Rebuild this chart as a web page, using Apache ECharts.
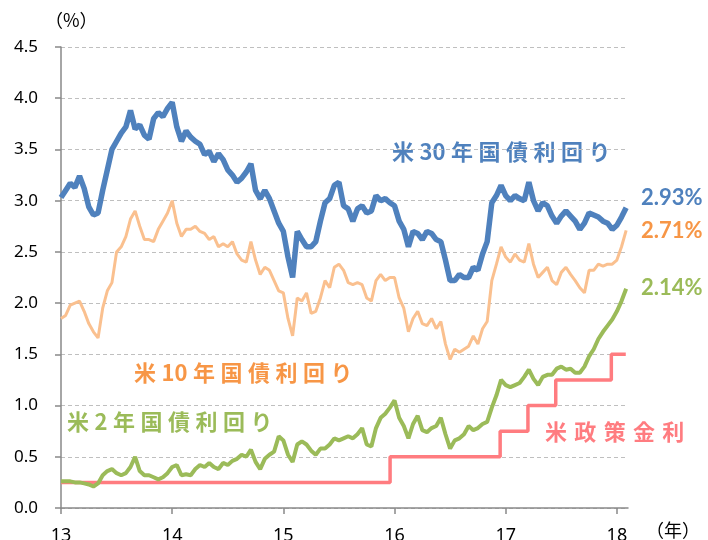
<!DOCTYPE html>
<html>
<head>
<meta charset="utf-8">
<script src="https://cdn.jsdelivr.net/npm/echarts@6/dist/echarts.min.js"></script>
<style>
  html, body { margin: 0; padding: 0; background: #fff; }
  #chart { width: 708px; height: 540px; }
</style>
</head>
<body>
<div id="chart"></div>
<script>
// half-month samples from Jan 2013 (i=0) to end of Jan 2018 (i=122), x = 13 + i/24
const yield30 = [
    3.03, 3.10, 3.17, 3.13, 3.24, 3.12, 2.94, 2.86, 2.88, 3.10, 3.30, 3.50, 3.58, 3.66, 3.72, 3.88, 3.70, 3.74, 3.64, 3.60, 3.80, 3.86, 3.82, 3.90,
    3.96, 3.72, 3.58, 3.68, 3.62, 3.58, 3.55, 3.45, 3.48, 3.38, 3.46, 3.40, 3.30, 3.25, 3.18, 3.22, 3.28, 3.36, 3.10, 3.02, 3.10, 3.02, 2.90, 2.78,
    2.70, 2.45, 2.25, 2.70, 2.62, 2.55, 2.55, 2.60, 2.80, 2.98, 3.02, 3.15, 3.18, 2.95, 2.92, 2.80, 2.92, 2.95, 2.88, 2.90, 3.05, 3.00, 3.02, 2.98,
    2.95, 2.80, 2.72, 2.55, 2.70, 2.68, 2.62, 2.70, 2.68, 2.62, 2.60, 2.42, 2.22, 2.22, 2.28, 2.25, 2.25, 2.35, 2.32, 2.48, 2.60, 2.98, 3.05, 3.15,
    3.05, 3.00, 3.05, 3.02, 3.00, 3.18, 3.00, 2.90, 2.98, 2.95, 2.85, 2.78, 2.85, 2.90, 2.85, 2.80, 2.72, 2.78, 2.88, 2.86, 2.84, 2.80, 2.78, 2.72,
    2.76, 2.84, 2.93
];
const yield10 = [
    1.85, 1.88, 1.98, 2.00, 2.02, 1.92, 1.80, 1.72, 1.66, 1.95, 2.12, 2.20, 2.50, 2.55, 2.65, 2.82, 2.90, 2.75, 2.62, 2.62, 2.60, 2.72, 2.80, 2.88,
    3.00, 2.78, 2.65, 2.72, 2.72, 2.75, 2.70, 2.68, 2.62, 2.65, 2.55, 2.58, 2.55, 2.60, 2.48, 2.42, 2.40, 2.60, 2.42, 2.28, 2.35, 2.32, 2.22, 2.12,
    2.10, 1.85, 1.68, 2.05, 2.02, 2.10, 1.90, 1.92, 2.05, 2.22, 2.15, 2.35, 2.38, 2.32, 2.20, 2.18, 2.20, 2.18, 2.05, 2.02, 2.22, 2.28, 2.22, 2.25,
    2.25, 2.05, 1.95, 1.72, 1.85, 1.92, 1.80, 1.78, 1.85, 1.75, 1.82, 1.60, 1.45, 1.55, 1.52, 1.55, 1.58, 1.68, 1.60, 1.75, 1.82, 2.22, 2.38, 2.55,
    2.45, 2.40, 2.48, 2.42, 2.40, 2.58, 2.38, 2.25, 2.30, 2.35, 2.22, 2.18, 2.30, 2.35, 2.28, 2.22, 2.15, 2.10, 2.32, 2.32, 2.38, 2.36, 2.38, 2.38,
    2.42, 2.55, 2.71
];
const yield2 = [
    0.26, 0.26, 0.26, 0.25, 0.25, 0.24, 0.23, 0.21, 0.24, 0.32, 0.36, 0.38, 0.34, 0.32, 0.34, 0.40, 0.50, 0.36, 0.32, 0.32, 0.30, 0.28, 0.30, 0.34,
    0.40, 0.42, 0.32, 0.33, 0.32, 0.38, 0.42, 0.40, 0.44, 0.40, 0.38, 0.44, 0.42, 0.46, 0.48, 0.52, 0.50, 0.57, 0.45, 0.38, 0.48, 0.52, 0.55, 0.70,
    0.66, 0.52, 0.45, 0.62, 0.65, 0.62, 0.56, 0.52, 0.58, 0.58, 0.62, 0.68, 0.66, 0.68, 0.70, 0.68, 0.72, 0.78, 0.62, 0.60, 0.78, 0.88, 0.92, 0.98,
    1.05, 0.88, 0.80, 0.68, 0.82, 0.90, 0.76, 0.74, 0.78, 0.80, 0.88, 0.72, 0.58, 0.66, 0.68, 0.72, 0.80, 0.76, 0.78, 0.82, 0.84, 0.98, 1.10, 1.25,
    1.20, 1.18, 1.20, 1.22, 1.28, 1.35, 1.26, 1.20, 1.28, 1.30, 1.30, 1.36, 1.38, 1.35, 1.36, 1.32, 1.32, 1.38, 1.48, 1.55, 1.65, 1.72, 1.78, 1.84,
    1.92, 2.02, 2.14
];

// policy rate (upper bound), changes at these dates (year units)
const fedDates = [13, 15.96, 16.95, 17.2, 17.45, 17.95, 18.08];
const fedRates = [0.25, 0.5, 0.75, 1.0, 1.25, 1.5, 1.5];

const yearTicks = [13, 14, 15, 16, 17, 18];
const yTicks = ['0.0', '0.5', '1.0', '1.5', '2.0', '2.5', '3.0', '3.5', '4.0', '4.5'];

const BLUE = '#4f81bd';
const ORANGE = '#fac08f';
const ORANGE_TEXT = '#f79646';
const GREEN = '#9bbb59';
const PINK = '#ff7c80';

const jpFont = '"Noto Sans CJK JP", sans-serif';
const numFont = 'Lato, "Noto Sans", sans-serif';

function halfMonthSeries(values) {
    return values.map((v, i) => [13 + i / 24, v]);
}

// widen the label like the original, but keep digits together
function spaced(text, gap) {
    let out = '';
    for (let i = 0; i < text.length; i++) {
        out += text[i];
        let next = text[i + 1];
        if (next && !(/\d/.test(text[i]) && /\d/.test(next))) {
            out += gap;
        }
    }
    return out;
}

function label(text, x, y, color, size) {
    return {
        type: 'text',
        left: x,
        top: y,
        style: {
            text: text,
            fill: color,
            font: `bold ${size}px ${jpFont}`
        }
    };
}

function endValue(text, y, color) {
    return {
        type: 'text',
        left: 641,
        top: y,
        style: { text: text, fill: color, font: `bold 22px ${numFont}` }
    };
}

let chart = echarts.init(document.getElementById('chart'), null, { renderer: 'canvas' });

let option = {
    backgroundColor: '#fff',
    animation: false,
    grid: {
        left: 61,
        top: 47,
        width: 567,
        height: 461,
        outerBoundsMode: 'none'
    },
    xAxis: {
        type: 'value',
        min: 13,
        max: 18.1,
        interval: 1,
        axisLine: { lineStyle: { color: '#898989', width: 1.5 } },
        axisTick: { customValues: yearTicks, length: 6, lineStyle: { color: '#898989', width: 1.5 } },
        axisLabel: {
            customValues: yearTicks,
            margin: 19,
            color: '#000',
            fontSize: 18,
            fontFamily: '"Noto Sans", sans-serif'
        },
        splitLine: { show: false }
    },
    yAxis: {
        type: 'value',
        min: 0,
        max: 4.5,
        interval: 0.5,
        axisLine: { show: true, lineStyle: { color: '#898989', width: 1.5 } },
        axisTick: { show: true, length: 6, lineStyle: { color: '#898989', width: 1.5 } },
        axisLabel: {
            margin: 23,
            color: '#000',
            fontSize: 17,
            fontFamily: '"Noto Sans", sans-serif',
            formatter: (v) => yTicks[Math.round(v * 2)]
        },
        splitLine: { lineStyle: { color: '#bfbfbf', type: [4, 3], width: 1 } }
    },
    series: [
        {
            name: '米政策金利',
            type: 'line',
            step: 'end',
            symbol: 'none',
            lineStyle: { color: PINK, width: 3.5 },
            data: fedDates.map((d, i) => [d, fedRates[i]])
        },
        {
            name: '米2年国債利回り',
            type: 'line',
            symbol: 'none',
            lineStyle: { color: GREEN, width: 4 },
            data: halfMonthSeries(yield2)
        },
        {
            name: '米10年国債利回り',
            type: 'line',
            symbol: 'none',
            lineStyle: { color: ORANGE, width: 3 },
            data: halfMonthSeries(yield10)
        },
        {
            name: '米30年国債利回り',
            type: 'line',
            symbol: 'none',
            lineStyle: { color: BLUE, width: 5.5 },
            data: halfMonthSeries(yield30)
        }
    ],
    graphic: [
        { type: 'text', left: 45, top: 11, style: { text: '（%）', fill: '#000', font: `18px ${jpFont}` } },
        { type: 'text', left: 646, top: 521, style: { text: '（年）', fill: '#000', font: `18px ${jpFont}` } },
        label(spaced('米30年国債利回り', '\u2005'), 392, 141, BLUE, 22),
        label(spaced('米10年国債利回り', '\u2005'), 134, 362, ORANGE_TEXT, 22),
        label(spaced('米2年国債利回り', '\u2005'), 67, 411, GREEN, 22),
        label(spaced('米政策金利', '\u2004'), 545, 421, PINK, 22),
        endValue(yield30[yield30.length - 1].toFixed(2) + '%', 187, BLUE),
        endValue(yield10[yield10.length - 1].toFixed(2) + '%', 220, ORANGE_TEXT),
        endValue(yield2[yield2.length - 1].toFixed(2) + '%', 277, GREEN)
    ]
};

chart.setOption(option);
</script>
</body>
</html>
